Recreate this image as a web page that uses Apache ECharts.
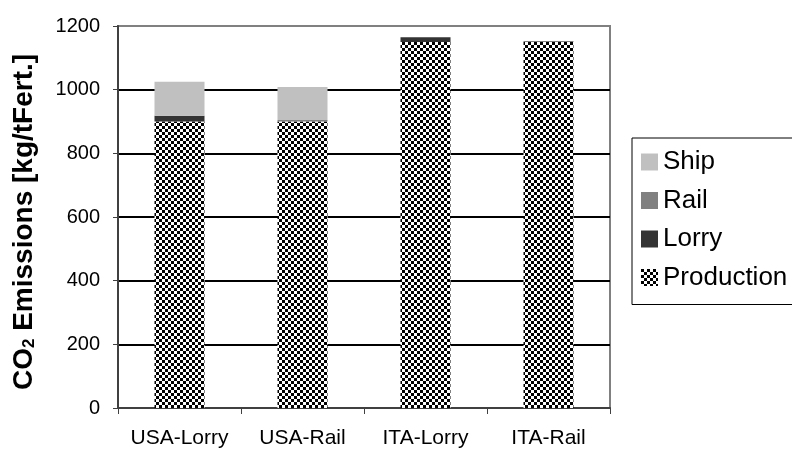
<!DOCTYPE html>
<html><head><meta charset="utf-8">
<script src="https://cdn.jsdelivr.net/npm/echarts@6/dist/echarts.min.js"></script>
<style>html,body{margin:0;padding:0;background:#fff}#c{width:792px;height:449px}</style>
</head><body><div id="c"></div>
<script>
const categories = ['USA-Lorry', 'USA-Rail', 'ITA-Lorry', 'ITA-Rail'];
const production = [900, 900, 1150, 1150];
const lorry = [18, 0, 15, 0];
const rail = [0, 5, 0, 3];
const ship = [107, 103, 0, 0];
const legendOrder = ['Ship', 'Rail', 'Lorry', 'Production'];
const yTicks = [0, 200, 400, 600, 800, 1000, 1200];

const pc = document.createElement('canvas');
pc.width = 6; pc.height = 6;
const g = pc.getContext('2d');
g.fillStyle = '#fff'; g.fillRect(0, 0, 6, 6);
g.fillStyle = '#000'; g.fillRect(0, 0, 3, 3); g.fillRect(3, 3, 3, 3);
const checker = { image: pc, repeat: 'repeat' };

const chart = echarts.init(document.getElementById('c'), null, { renderer: 'canvas' });
const font = 'Liberation Sans, Arial, sans-serif';
function bar(name, data, color) {
  return { name, type: 'bar', stack: 'all', data, barWidth: 50,
    itemStyle: { color }, emphasis: { disabled: true } };
}
chart.setOption({
  animation: false,
  textStyle: { fontFamily: font },
  grid: { left: 118, right: 182, top: 26, bottom: 40, show: true,
    borderColor: '#808080', borderWidth: 2, backgroundColor: 'transparent' },
  legend: {
    data: legendOrder.map(n => ({ name: n, icon: 'rect' })), orient: 'vertical', left: 632, top: 138,
    padding: [11, 14, 14, 9], itemWidth: 17, itemHeight: 17, itemGap: 12.5,
    borderColor: '#000', borderWidth: 1, selectedMode: false,
    textStyle: { fontSize: 26, color: '#000', fontFamily: font }
  },
  xAxis: {
    type: 'category', data: categories,
    axisLine: { lineStyle: { color: '#404040', width: 2 } },
    axisTick: { show: true, length: 6, lineStyle: { color: '#404040', width: 1 } },
    axisLabel: { interval: 0, hideOverlap: false, fontSize: 21, color: '#000', margin: 20, fontFamily: font }
  },
  yAxis: {
    type: 'value', min: yTicks[0], max: yTicks[yTicks.length - 1], interval: 200,
    name: '{b|CO}{s|2}{b| Emissions [kg/tFert.]}', nameLocation: 'middle', nameGap: 79,
    nameTextStyle: { padding: [0, 10, 0, 0], rich: {
      b: { fontSize: 28, fontWeight: 'bold', color: '#000', fontFamily: font, lineHeight: 30 },
      s: { fontSize: 17, fontWeight: 'bold', color: '#000', fontFamily: font, lineHeight: 30, padding: [10, 0, 0, 0] }
    } },
    axisLine: { show: true, lineStyle: { color: '#404040', width: 2 } },
    axisTick: { show: true, length: 5, lineStyle: { color: '#404040', width: 1 } },
    axisLabel: { fontSize: 20, color: '#000', margin: 18, fontFamily: font, formatter: v => String(v) },
    splitLine: { show: true, lineStyle: { color: ['#808080', '#000', '#000', '#000', '#000', '#000', '#808080'], width: 2 } }
  },
  series: [
    bar('Production', production, checker),
    bar('Lorry', lorry, '#333333'),
    bar('Rail', rail, '#808080'),
    bar('Ship', ship, '#c0c0c0')
  ]
});
</script></body></html>
